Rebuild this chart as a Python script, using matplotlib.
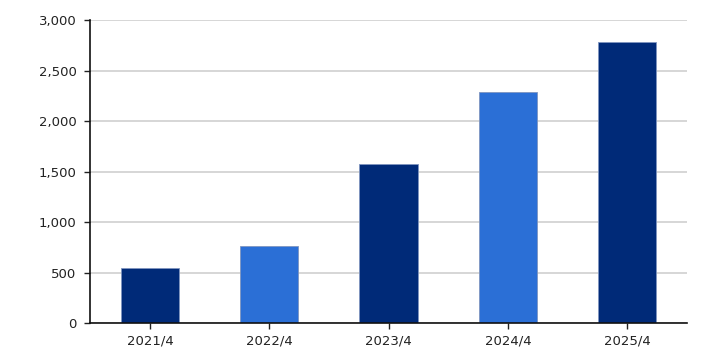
import matplotlib
matplotlib.use("Agg")
import matplotlib.pyplot as plt
from matplotlib.ticker import FuncFormatter

categories = ["2021/4", "2022/4", "2023/4", "2024/4", "2025/4"]
values = [551, 767, 1578, 2291, 2778]
colors = ["#002A78", "#2B6FD6", "#002A78", "#2B6FD6", "#002A78"]
yticks = [0, 500, 1000, 1500, 2000, 2500, 3000]

plt.rcParams['font.family'] = ['DejaVu Sans']
fig = plt.figure(figsize=(7.06, 3.53), dpi=100)
ax = fig.add_axes([0.128, 0.084, 0.9727 - 0.128, 0.9433 - 0.084])

x = range(len(categories))
ax.bar(x, values, width=0.49, color=colors, edgecolor="#7f95bf", linewidth=0.6, zorder=3)
ax.set_xlim(-0.5, len(categories) - 0.5)
ax.set_ylim(0, 3000)
ax.set_yticks(yticks)
ax.yaxis.set_major_formatter(FuncFormatter(lambda v, p: f"{int(v):,}"))
ax.set_xticks(list(x))
ax.set_xticklabels(categories)
ax.grid(axis="y", color="#d0d0d0", linewidth=1.2, zorder=0)
for s in ["top", "right"]:
    ax.spines[s].set_visible(False)
for s in ["left", "bottom"]:
    ax.spines[s].set_color("#111111")
    ax.spines[s].set_linewidth(1.2)
    ax.spines[s].set_zorder(4)
ax.tick_params(axis="both", colors="#222222", labelsize=9.5, length=4, width=1)
ax.tick_params(axis="y", pad=6)
ax.tick_params(axis="x", pad=4)
fig.savefig("out.png", dpi=100)
